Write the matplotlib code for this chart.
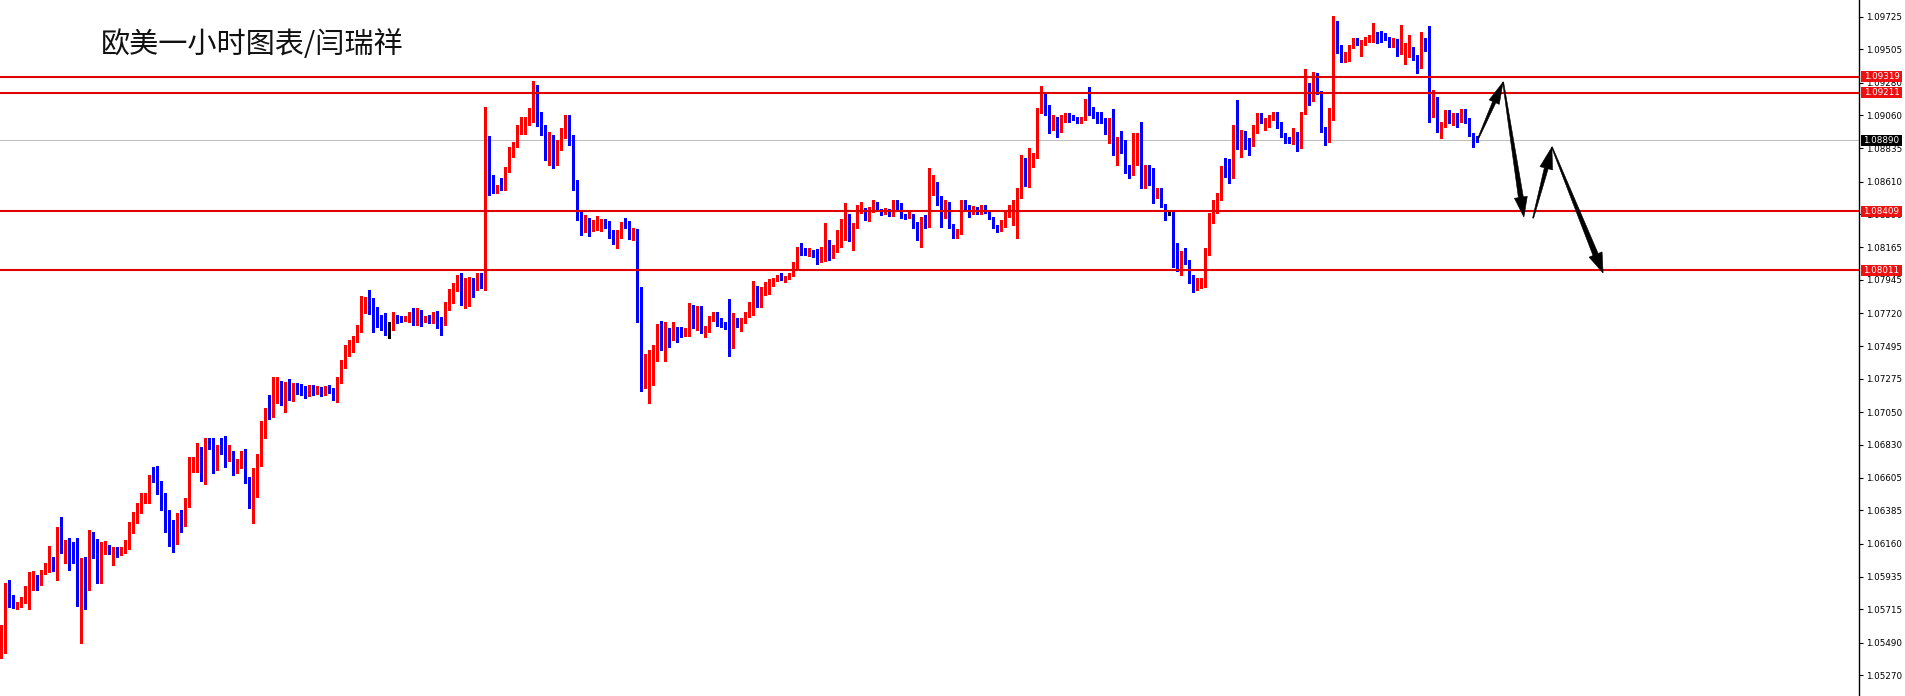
import numpy as np
import matplotlib
matplotlib.use("Agg")
import matplotlib.pyplot as plt
from matplotlib.patches import Polygon, Rectangle
from matplotlib.transforms import IdentityTransform

# ---------------- data (EURUSD H1, prices in points = 1e-5) ----------------
opens_pt = [105407,105556,105840,105786,105732,105752,105766,105800,105874,105921,
105901,105969,106009,106057,106036,106239,106111,106165,106158,106124,
105867,106036,105982,106199,106178,105901,106104,106138,106050,106111,
106104,106118,106165,106239,106314,106375,106476,106469,106611,106611,
106503,106449,106314,106280,106246,106354,106314,106442,106652,106713,
106794,106598,106862,106808,106679,106794,106788,106733,106781,106679,
106679,106781,106591,106558,106605,106733,106950,107058,107025,107228,
107255,107194,107248,107147,107235,107221,107201,107180,107214,107194,
107207,107187,107214,107201,107167,107268,107370,107471,107485,107539,
107627,107769,107810,107735,107688,107674,107661,107644,107627,107695,
107688,107681,107688,107715,107661,107715,107674,107688,107674,107715,
107654,107654,107783,107857,107898,107965,107803,107877,107945,107898,
107979,107898,108778,108642,108540,108581,108567,108683,108818,108852,
108947,108994,109014,109035,109143,109048,108960,108825,108892,108757,
108859,108947,108994,108892,108588,108385,108297,108337,108283,108310,
108304,108337,108317,108250,108195,108270,108331,108324,108236,108276,
107789,107241,107248,107363,107478,107566,107485,107600,107552,107607,
107593,107573,107586,107742,107634,107762,107593,107607,107681,107715,
107668,107654,107620,107498,107654,107627,107668,107701,107722,107830,
107796,107857,107898,107925,107952,107965,107945,107958,107979,108053,
108148,108141,108127,108134,108121,108074,108080,108195,108100,108148,
108216,108297,108378,108216,108304,108419,108426,108364,108419,108466,
108405,108398,108412,108385,108466,108453,108385,108371,108385,108331,
108229,108364,108317,108554,108588,108486,108385,108453,108304,108250,
108263,108466,108439,108398,108426,108398,108439,108405,108364,108304,
108283,108317,108385,108419,108432,108534,108737,108588,108778,108778,
109096,109163,109116,108974,109048,108994,109048,109062,109055,109041,
109014,109035,109150,109075,109069,109062,109028,108940,109035,108845,
108879,108838,108703,108662,108859,108920,108669,108710,108689,108520,
108547,108453,108402,108398,108182,108013,108127,108067,107972,107891,
107925,107938,108148,108371,108405,108493,108757,108757,108642,108987,
108859,108892,108879,108859,108960,109055,108967,109008,109035,109062,
109008,108926,108906,108872,108940,108845,109075,109244,109163,109312,
109211,108974,108906,109035,109691,109502,109447,109468,109522,109569,
109468,109549,109562,109562,109603,109596,109603,109583,109535,109562,
109481,109502,109508,109515,109454,109400,109576,109535,109089,109177,
108960,108994,109082,109008,109062,109048,109096,109021,108933,108913]

highs_pt = [105610,105894,105915,105813,105766,105800,105874,105969,105975,105948,
105982,106030,106145,106070,106273,106341,106185,106199,106172,106199,
106063,106070,106253,106239,106192,106172,106178,106151,106138,106138,
106138,106185,106307,106375,106436,106503,106503,106625,106679,106686,
106585,106503,106388,106321,106368,106388,106469,106747,106747,106842,
106815,106876,106876,106876,106828,106876,106889,106828,106788,106733,
106788,106801,106611,106672,106767,106991,107079,107167,107289,107289,
107262,107255,107275,107248,107248,107241,107228,107235,107235,107228,
107221,107228,107235,107214,107289,107404,107505,107539,107566,107640,
107837,107830,107877,107823,107762,107708,107722,107661,107729,107708,
107701,107701,107729,107756,107756,107742,107701,107708,107729,107735,
107695,107796,107884,107925,107979,107992,107958,107965,107958,107992,
107992,109116,108920,108656,108588,108635,108710,108845,108879,108994,
109048,109048,109109,109292,109265,109082,108994,108947,108926,108892,
108974,109062,109062,108926,108622,108419,108385,108364,108351,108378,
108358,108358,108344,108283,108283,108337,108364,108344,108297,108290,
107898,107444,107471,107505,107647,107668,107661,107620,107661,107627,
107627,107620,107789,107776,107769,107769,107634,107701,107729,107729,
107688,107661,107816,107722,107688,107688,107729,107796,107938,107904,
107898,107931,107952,107958,107979,107992,107972,107992,108067,108168,
108195,108161,108161,108148,108154,108168,108331,108216,108182,108283,
108358,108466,108392,108331,108453,108473,108432,108439,108486,108473,
108426,108432,108426,108486,108486,108466,108392,108405,108392,108337,
108371,108385,108703,108656,108608,108513,108486,108473,108324,108290,
108486,108486,108453,108446,108439,108453,108453,108419,108371,108317,
108351,108405,108453,108486,108568,108791,108771,108838,108805,109109,
109258,109210,109129,109062,109048,109062,109075,109075,109062,109048,
109048,109170,109251,109116,109082,109082,109041,109041,109102,108913,
108953,108892,108723,108940,108940,109014,108723,108723,108703,108568,
108568,108459,108419,108412,108195,108141,108161,108080,107979,107958,
107958,108161,108398,108486,108534,108716,108771,108764,108994,109163,
108960,108953,108906,108994,109075,109075,109041,109062,109082,109082,
109014,108940,108913,108974,108947,109082,109373,109278,109353,109346,
109224,108981,109109,109732,109698,109535,109488,109535,109583,109583,
109569,109590,109603,109684,109623,109630,109617,109590,109583,109576,
109671,109549,109603,109522,109468,109623,109583,109664,109231,109183,
109014,109096,109096,109075,109075,109102,109102,109041,108940,108920]

lows_pt = [105387,105421,105732,105725,105718,105732,105759,105718,105847,105847,
105881,105955,105969,105975,105915,106097,106030,105982,106030,105739,
105488,105718,105847,106063,105894,105894,106090,106090,106016,106070,
106084,106097,106124,106233,106300,106368,106436,106436,106578,106496,
106388,106239,106145,106104,106158,106239,106280,106408,106645,106645,
106585,106564,106801,106639,106659,106767,106679,106720,106625,106639,
106672,106571,106402,106300,106476,106686,106876,107004,107018,107112,
107099,107051,107133,107126,107174,107167,107147,107160,107167,107174,
107160,107167,107180,107133,107119,107248,107350,107431,107458,107525,
107593,107722,107715,107593,107627,107607,107573,107552,107607,107654,
107661,107668,107661,107640,107640,107634,107661,107654,107654,107620,
107573,107640,107742,107789,107870,107776,107756,107769,107830,107877,
107891,107877,108520,108533,108533,108554,108554,108676,108778,108845,
108933,108933,108994,109014,108987,108926,108757,108723,108703,108723,
108825,108906,108859,108554,108351,108249,108270,108243,108276,108283,
108276,108297,108229,108188,108161,108229,108297,108222,108216,107661,
107194,107214,107112,107235,107397,107471,107397,107492,107539,107525,
107559,107566,107566,107620,107607,107586,107559,107593,107668,107634,
107627,107613,107431,107485,107627,107600,107654,107695,107708,107762,
107762,107844,107850,107904,107938,107945,107931,107952,107972,108026,
108114,108114,108107,108100,108053,108067,108074,108080,108094,108134,
108168,108216,108209,108148,108297,108398,108351,108344,108405,108419,
108385,108392,108378,108378,108419,108364,108358,108364,108297,108216,
108168,108297,108304,108520,108453,108304,108364,108297,108229,108229,
108256,108419,108371,108392,108392,108392,108398,108358,108297,108270,
108276,108304,108371,108317,108229,108500,108581,108574,108710,108771,
109075,109062,108940,108960,108913,108947,109014,109014,109028,109008,
109008,109028,109062,109041,109008,109008,108933,108872,108791,108723,
108805,108669,108635,108656,108723,108568,108568,108588,108466,108500,
108439,108351,108385,108033,108006,107979,108053,107925,107864,107877,
107891,107898,108114,108331,108398,108486,108642,108601,108635,108832,
108778,108832,108791,108852,108940,109008,108960,108981,109028,108974,
108913,108872,108872,108865,108818,108838,109069,109129,109157,109204,
108947,108859,108879,109028,109481,109420,109420,109427,109515,109535,
109461,109535,109556,109556,109549,109556,109569,109522,109522,109461,
109474,109407,109454,109434,109346,109380,109495,109014,109048,108947,
108906,108981,109008,108994,108981,109014,109008,108920,108845,108879]

closes_pt = [105556,105847,105786,105745,105752,105772,105806,105881,105921,105901,
105975,106016,106057,106036,106239,106111,106165,106138,106111,105867,
106036,105982,106199,106172,105901,106111,106131,106097,106111,106104,
106124,106172,106246,106321,106388,106476,106483,106611,106605,106503,
106449,106314,106273,106246,106354,106314,106442,106659,106720,106794,
106598,106862,106808,106679,106794,106788,106740,106781,106679,106693,
106781,106591,106558,106605,106733,106950,107058,107025,107228,107255,
107194,107248,107140,107235,107221,107201,107180,107214,107194,107207,
107187,107214,107201,107167,107268,107370,107471,107485,107539,107627,
107776,107810,107735,107661,107647,107627,107627,107644,107695,107681,
107674,107695,107715,107661,107715,107668,107688,107668,107715,107654,
107647,107789,107857,107911,107965,107803,107877,107945,107898,107979,
107898,108778,108635,108540,108574,108561,108689,108832,108859,108947,
109001,109035,109041,109143,109048,108960,108825,108892,108757,108859,
108947,108994,108892,108588,108385,108297,108337,108283,108324,108344,
108344,108310,108236,108195,108270,108331,108317,108243,108276,107789,
107248,107268,107370,107492,107566,107485,107600,107552,107607,107593,
107573,107593,107742,107634,107762,107593,107607,107695,107708,107661,
107634,107620,107498,107654,107634,107681,107708,107729,107830,107796,
107864,107904,107938,107952,107972,107952,107965,107985,108060,108148,
108127,108127,108141,108114,108087,108100,108195,108107,108168,108222,
108304,108378,108216,108317,108426,108439,108364,108432,108466,108439,
108398,108419,108385,108466,108439,108371,108364,108392,108304,108222,
108364,108317,108554,108588,108486,108385,108453,108304,108250,108270,
108466,108432,108385,108432,108398,108439,108405,108364,108304,108283,
108331,108398,108405,108439,108534,108737,108588,108778,108784,109096,
109163,109116,108974,109048,108994,109048,109062,109048,109048,109014,
109041,109157,109069,109069,109062,109021,108940,109028,108845,108892,
108832,108676,108662,108865,108920,108601,108710,108676,108520,108540,
108446,108419,108402,108182,108013,108127,108060,107931,107877,107938,
107945,108148,108371,108405,108500,108703,108696,108642,108987,108859,
108899,108872,108859,108967,109055,109014,109028,109041,109062,108994,
108920,108886,108879,108940,108845,109075,109244,109163,109312,109211,
108960,108906,109028,109691,109488,109447,109481,109529,109569,109549,
109535,109569,109576,109603,109562,109562,109583,109535,109569,109474,
109508,109515,109515,109447,109400,109569,109502,109096,109177,108960,
109001,109082,109055,109062,109048,109096,109014,108926,108913,108890]

# horizontal levels drawn on the chart
level_prices = [1.09319, 1.09211, 1.08409, 1.08011]
current_price = 1.08890
tick_values = [1.09725, 1.09505, 1.09280, 1.09060, 1.08835, 1.08610, 1.08390,
               1.08165, 1.07945, 1.07720, 1.07495, 1.07275, 1.07050, 1.06830,
               1.06605, 1.06385, 1.06160, 1.05935, 1.05715, 1.05490, 1.05270]
title_text = "欧美一小时图表/闫瑞祥"

# forecast path (bar index, price) drawn as arrows
path_idx = [369, 375.4, 380.6, 382.9, 387.6, 400.4]
path_price = [1.08892, 1.09285, 1.08371, 1.08364, 1.08845, 1.07992]

# ---------------- figure ----------------
W, H = 1905, 696
DPI = 100
fig = plt.figure(figsize=(W / DPI, H / DPI), dpi=DPI, facecolor="white")
axw = 1859
ax = fig.add_axes([0, 0, axw / W, 1])
ax.set_facecolor("white")

o = np.array(opens_pt) / 1e5
h = np.array(highs_pt) / 1e5
l = np.array(lows_pt) / 1e5
c = np.array(closes_pt) / 1e5
x = np.arange(len(o))

ax.set_xlim(-1.5 / 4, (axw - 1.5) / 4)
ax.set_ylim(1.051295, 1.09840)

RED = "#ff0000"
BLUE = "#0000ff"
cols = np.where(c > o, RED, np.where(c < o, BLUE, "#000000"))

ax.axhline(current_price, color="#c0c0c0", lw=0.75, zorder=0.5)

ax.vlines(x, l, h, colors=cols, linewidth=0.9, antialiased=False, zorder=2)
minh = 0.00007
bh = np.maximum(np.abs(c - o), minh)
bottom = np.minimum(o, c)
ax.bar(x, bh, bottom=bottom, width=0.82, color=cols, linewidth=0,
       antialiased=False, zorder=2.5)

for lv in level_prices:
    ax.axhline(lv, color="#e00000", lw=1.5, zorder=3)

# axes styling
for s in ["left", "top", "bottom"]:
    ax.spines[s].set_visible(False)
ax.spines["right"].set_color("black")
ax.spines["right"].set_linewidth(1.0)
ax.set_xticks([])
ax.yaxis.tick_right()
ax.set_yticks(tick_values)
ax.set_yticklabels([f"{v:.5f}" for v in tick_values])
ax.tick_params(axis="y", length=3, width=0.8, pad=2, labelsize=6.3,
               colors="black")
for t in ax.get_yticklabels():
    t.set_family("DejaVu Sans")

fig.text(101 / W, 1 - 45 / H, title_text, fontsize=21,
         family=["Noto Sans CJK SC", "DejaVu Sans"], va="center", ha="left",
         color="#111111")

fig.canvas.draw()

# price boxes on the right scale
def price_box(price, fc):
    yd = ax.transData.transform((0, price))[1]
    rect = Rectangle((1861, yd - 5.5), 41, 11, transform=IdentityTransform(),
                     facecolor=fc, edgecolor="none", zorder=5)
    fig.add_artist(rect)
    fig.text(1881.5 / W, yd / H, f"{price:.5f}", fontsize=6.3, color="white",
             ha="center", va="center", family="DejaVu Sans", zorder=6)

for lv in level_prices:
    price_box(lv, "#ee1111")
price_box(current_price, "#000000")

# arrows
def arrow(i0, i1, w0, w1, hl, hw):
    p0 = ax.transData.transform((path_idx[i0], path_price[i0]))
    p1 = ax.transData.transform((path_idx[i1], path_price[i1]))
    d = p1 - p0
    L = np.hypot(*d)
    u = d / L
    n = np.array([-u[1], u[0]])
    b = p1 - u * hl
    pts = [p0 + n * w0 / 2, b + n * w1 / 2, b + n * hw / 2, p1,
           b - n * hw / 2, b - n * w1 / 2, p0 - n * w0 / 2]
    poly = Polygon(pts, closed=True, facecolor="black", edgecolor="black",
                   lw=0.4, transform=IdentityTransform(), zorder=7)
    fig.add_artist(poly)

arrow(0, 1, 1.0, 3.5, 22, 11)
arrow(1, 2, 1.0, 5.0, 20, 13)
arrow(3, 4, 1.0, 4.0, 22, 13)
arrow(4, 5, 1.0, 5.5, 20, 14)

fig.savefig("out.png", dpi=DPI, facecolor="white")
